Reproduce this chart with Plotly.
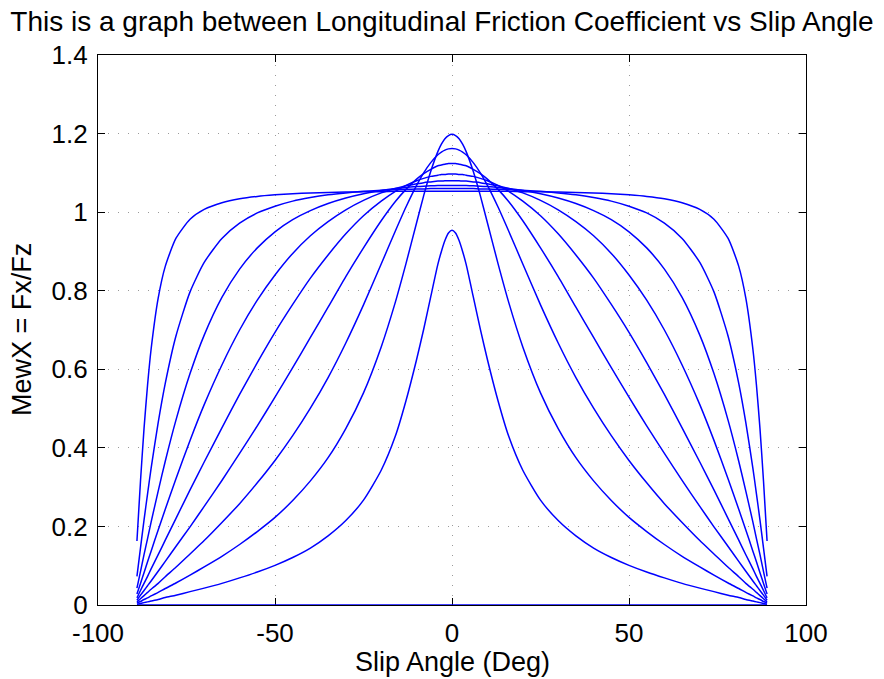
import plotly.graph_objects as go

# Slip angle samples (deg) for the right half; curves are symmetric about 0
SLIP_ANGLE = [0, 1, 2, 3, 4, 6, 8, 10, 13, 16, 20, 25, 30, 35, 40, 45, 50, 55,
              60, 65, 70, 74, 78, 81, 83, 85, 86, 87, 88, 89]

# Longitudinal friction coefficient curves, one per slip ratio
MU_K00 = [0.000, 0.000, 0.000, 0.000, 0.000, 0.000, 0.000, 0.000, 0.000, 0.000,
          0.000, 0.000, 0.000, 0.000, 0.000, 0.000, 0.000, 0.000, 0.000, 0.000,
          0.000, 0.000, 0.000, 0.000, 0.000, 0.000, 0.000, 0.000, 0.000, 0.000]
MU_K01 = [0.954, 0.947, 0.928, 0.900, 0.867, 0.785, 0.702, 0.625, 0.520, 0.430,
          0.343, 0.267, 0.215, 0.176, 0.145, 0.121, 0.101, 0.084, 0.069, 0.055,
          0.043, 0.034, 0.025, 0.019, 0.014, 0.010, 0.008, 0.006, 0.004, 0.002]
MU_K02 = [1.198, 1.195, 1.187, 1.173, 1.154, 1.104, 1.042, 0.973, 0.869, 0.771,
          0.657, 0.540, 0.449, 0.375, 0.316, 0.266, 0.223, 0.187, 0.154, 0.124,
          0.097, 0.076, 0.056, 0.042, 0.032, 0.023, 0.018, 0.014, 0.009, 0.005]
MU_K03 = [1.162, 1.161, 1.158, 1.153, 1.146, 1.126, 1.100, 1.068, 1.013, 0.952,
          0.868, 0.764, 0.667, 0.579, 0.501, 0.431, 0.368, 0.311, 0.258, 0.210,
          0.164, 0.130, 0.096, 0.072, 0.055, 0.040, 0.032, 0.024, 0.016, 0.008]
MU_K04 = [1.124, 1.124, 1.122, 1.120, 1.118, 1.109, 1.098, 1.084, 1.058, 1.027,
          0.978, 0.909, 0.836, 0.758, 0.681, 0.604, 0.529, 0.456, 0.386, 0.317,
          0.251, 0.199, 0.149, 0.111, 0.086, 0.061, 0.049, 0.037, 0.025, 0.012]
MU_K05 = [1.097, 1.097, 1.096, 1.096, 1.094, 1.091, 1.086, 1.080, 1.068, 1.053,
          1.028, 0.991, 0.945, 0.891, 0.832, 0.765, 0.694, 0.617, 0.536, 0.451,
          0.364, 0.293, 0.220, 0.165, 0.128, 0.092, 0.073, 0.055, 0.037, 0.018]
MU_K06 = [1.080, 1.080, 1.080, 1.079, 1.079, 1.077, 1.075, 1.072, 1.067, 1.060,
          1.049, 1.030, 1.006, 0.976, 0.940, 0.895, 0.840, 0.776, 0.700, 0.611,
          0.510, 0.419, 0.321, 0.244, 0.191, 0.137, 0.110, 0.082, 0.055, 0.028]
MU_K07 = [1.068, 1.068, 1.068, 1.068, 1.068, 1.067, 1.066, 1.065, 1.063, 1.060,
          1.055, 1.047, 1.036, 1.022, 1.004, 0.981, 0.950, 0.909, 0.855, 0.783,
          0.687, 0.589, 0.470, 0.366, 0.290, 0.211, 0.169, 0.128, 0.085, 0.043]
MU_K08 = [1.060, 1.060, 1.060, 1.060, 1.060, 1.060, 1.059, 1.059, 1.058, 1.057,
          1.056, 1.053, 1.049, 1.044, 1.037, 1.028, 1.015, 0.998, 0.972, 0.933,
          0.872, 0.797, 0.684, 0.564, 0.464, 0.348, 0.283, 0.216, 0.145, 0.073]
MU_K09 = [1.053, 1.053, 1.053, 1.053, 1.053, 1.053, 1.053, 1.053, 1.053, 1.053,
          1.052, 1.052, 1.051, 1.050, 1.049, 1.047, 1.044, 1.040, 1.034, 1.024,
          1.007, 0.982, 0.933, 0.862, 0.781, 0.651, 0.560, 0.449, 0.315, 0.163]

CURVES = [MU_K00, MU_K01, MU_K02, MU_K03, MU_K04, MU_K05, MU_K06, MU_K07, MU_K08, MU_K09]

X_TICKS = [-100, -50, 0, 50, 100]
X_TICK_TEXT = ["-100", "-50", "0", "50", "100"]
Y_TICKS = [0, 0.2, 0.4, 0.6, 0.8, 1.0, 1.2, 1.4]
Y_TICK_TEXT = ["0", "0.2", "0.4", "0.6", "0.8", "1", "1.2", "1.4"]

TITLE = "This is a graph between Longitudinal Friction Coefficient vs Slip Angle"
X_LABEL = "Slip Angle (Deg)"
Y_LABEL = "MewX = Fx/Fz"

FONT = "Liberation Sans, Arial, Helvetica, sans-serif"

x_full = [-a for a in SLIP_ANGLE[::-1]] + SLIP_ANGLE[1:]

fig = go.Figure()
for mu in CURVES:
    y_full = mu[::-1] + mu[1:]
    fig.add_trace(go.Scatter(
        x=x_full, y=y_full, mode="lines",
        line=dict(color="#0000ff", width=1.5, shape="spline", smoothing=0.6),
        showlegend=False, hoverinfo="skip"))

axis_common = dict(
    showline=True, linecolor="black", linewidth=1.2, mirror="ticks",
    ticks="inside", ticklen=7, tickwidth=1.2, tickcolor="black",
    showgrid=True, gridcolor="#9a9a9a", gridwidth=1, griddash="1px,9px",
    zeroline=False, tickfont=dict(family=FONT, size=26, color="black"),
)

fig.update_layout(
    width=884, height=679,
    margin=dict(l=98, r=78, t=55, b=74),
    paper_bgcolor="white", plot_bgcolor="white",
    font=dict(family=FONT, color="black"),
    title=dict(text=TITLE, x=0.5, xref="container", xanchor="center",
               y=1 - 21 / 679, yref="container", yanchor="middle",
               font=dict(family=FONT, size=28, color="black")),
    xaxis=dict(range=[-100, 100], tickvals=X_TICKS, ticktext=X_TICK_TEXT,
               ticklabelstandoff=5, layer="below traces", **axis_common),
    yaxis=dict(range=[0, 1.4], tickvals=Y_TICKS, ticktext=Y_TICK_TEXT,
               ticklabelstandoff=4, **axis_common),
    annotations=[
        dict(text=X_LABEL, xref="paper", yref="paper", x=0.5, y=(605 - 662) / 550,
             xanchor="center", yanchor="middle", showarrow=False,
             font=dict(family=FONT, size=27, color="black")),
        dict(text=Y_LABEL, xref="paper", yref="paper", x=(22 - 98) / 708, y=0.5,
             xanchor="center", yanchor="middle", showarrow=False, textangle=-90,
             font=dict(family=FONT, size=27, color="black")),
    ],
)

fig.write_html("out.html")
